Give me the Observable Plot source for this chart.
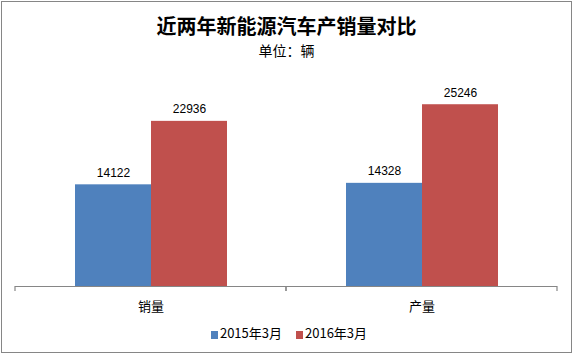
<!DOCTYPE html>
<html>
<head>
<meta charset="utf-8">
<script src="https://cdn.jsdelivr.net/npm/d3@7"></script>
<script src="https://cdn.jsdelivr.net/npm/@observablehq/plot@0.6"></script>
<style>
  html, body { margin: 0; padding: 0; background: #fff; }
  #wrap { position: relative; width: 573px; height: 355px; overflow: hidden; background: #fff; }
  #border { position: absolute; left: 1px; top: 1px; width: 571px; height: 352px; box-sizing: border-box; border: 1.5px solid #868686; pointer-events: none; }
  #title { position: absolute; left: 0; width: 573px; top: 10.5px; text-align: center; font: bold 20px "Noto Sans CJK SC", sans-serif; line-height: normal; color: #000; }
  #subtitle { position: absolute; left: 0; width: 573px; top: 40px; text-align: center; font: 14px "Noto Sans CJK SC", sans-serif; line-height: normal; color: #000; }
  #legend { position: absolute; left: 0; width: 578px; top: 325px; display: flex; justify-content: center; font: 13px/16px "Noto Sans CJK SC", sans-serif; color: #000; }
  .item { display: flex; align-items: center; margin: 0 7px; }
  .sw { width: 7px; height: 8px; margin-right: 2px; margin-top: 3px; }
  #chart { position: absolute; left: 0; top: 0; }
</style>
</head>
<body>
<div id="wrap">
  <div id="chart"></div>
  <div id="title"></div>
  <div id="subtitle"></div>
  <div id="legend"></div>
  <div id="border"></div>
</div>
<script>
const titleText = "近两年新能源汽车产销量对比";
const subtitleText = "单位：辆";
const categories = ["销量", "产量"];
const series = ["2015年3月", "2016年3月"];
const values2015 = [14122, 14328];
const values2016 = [22936, 25246];
const colors = ["#4F81BD", "#C0504D"];

document.getElementById("title").textContent = titleText;
document.getElementById("subtitle").textContent = subtitleText;

const data = [];
categories.forEach((c, i) => {
  data.push({cat: c, series: series[0], value: values2015[i]});
  data.push({cat: c, series: series[1], value: values2016[i]});
});

const edgeTicks = (index, scales) => {
  const g = d3.create("svg:g");
  const [x0, x1] = scales.x.range();
  const y0 = scales.y(0);
  for (const xv of [x0, x1]) {
    g.append("line")
      .attr("x1", xv).attr("x2", xv)
      .attr("y1", y0).attr("y2", y0 + 5)
      .attr("stroke", "#868686").attr("stroke-width", 1.2);
  }
  return g.node();
};

const chart = Plot.plot({
  width: 573,
  height: 355,
  marginLeft: 15,
  marginRight: 16,
  marginTop: 70,
  marginBottom: 69,
  style: {background: "transparent", overflow: "visible"},
  fx: {domain: categories, paddingInner: 0, paddingOuter: 0, axis: null},
  x: {domain: series, paddingInner: 0, paddingOuter: 0.76, axis: null},
  y: {domain: [0, 30000], axis: null},
  color: {domain: series, range: colors},
  marks: [
    Plot.barY(data, {fx: "cat", x: "series", y: "value", fill: "series"}),
    Plot.text(data, {fx: "cat", x: "series", y: "value", text: d => String(d.value), dy: -12, lineAnchor: "middle", fontSize: 12, fill: "#000", fontFamily: "Liberation Sans, Arial, sans-serif"}),
    Plot.ruleY([0], {stroke: "#868686", strokeWidth: 1.2}),
    edgeTicks,
    Plot.text(categories, {fx: d => d, text: d => d, frameAnchor: "bottom", dy: 20, lineAnchor: "middle", fontSize: 13, fill: "#000", fontFamily: "Noto Sans CJK SC, sans-serif"})
  ]
});
document.getElementById("chart").appendChild(chart);

const legend = document.getElementById("legend");
series.forEach((s, i) => {
  const item = document.createElement("div");
  item.className = "item";
  const sw = document.createElement("span");
  sw.className = "sw";
  sw.style.background = colors[i];
  const t = document.createElement("span");
  t.textContent = s;
  item.appendChild(sw);
  item.appendChild(t);
  legend.appendChild(item);
});
</script>
</body>
</html>
